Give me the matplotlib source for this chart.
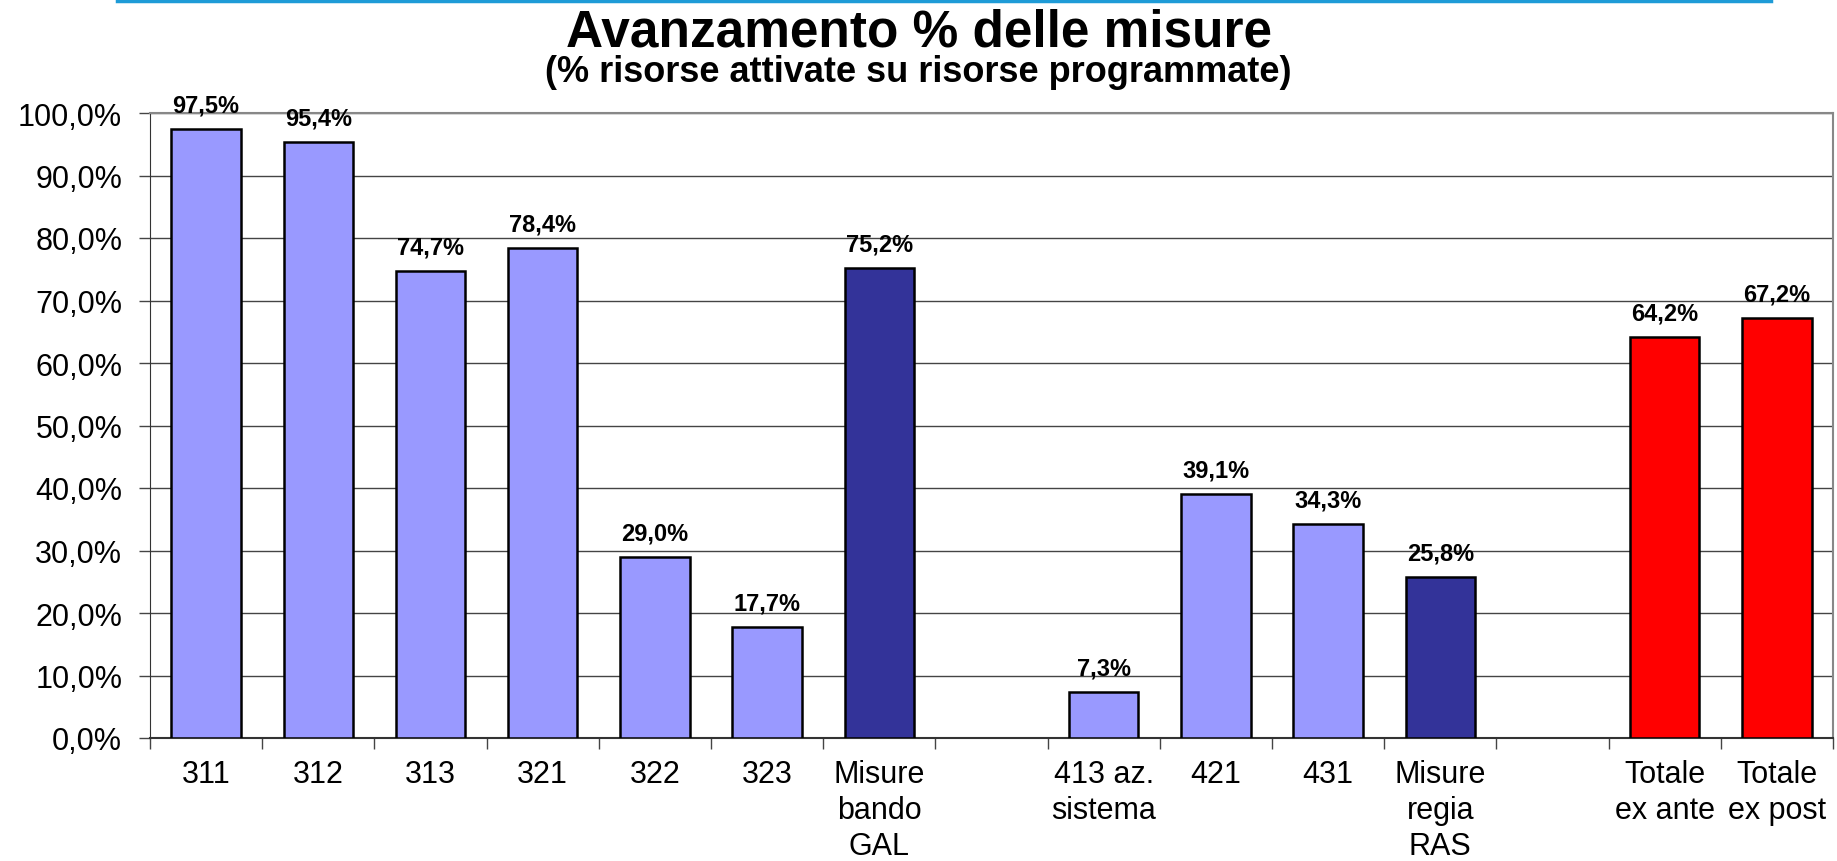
import numpy as np
import matplotlib
matplotlib.use("Agg")
import matplotlib.pyplot as plt
from matplotlib.lines import Line2D

# ==============================================================================
# DATA
# ==============================================================================
categories = ["311", "312", "313", "321", "322", "323", "Misure\nbando\nGAL", "",
              "413 az.\nsistema", "421", "431", "Misure\nregia\nRAS", "",
              "Totale\nex ante", "Totale\nex post"]
values = [97.5, 95.4, 74.7, 78.4, 29.0, 17.7, 75.2, np.nan,
          7.3, 39.1, 34.3, 25.8, np.nan, 64.2, 67.2]
groups = ["misura", "misura", "misura", "misura", "misura", "misura", "totale_gruppo", "",
          "misura", "misura", "misura", "totale_gruppo", "",
          "totale", "totale"]
yticks = np.arange(0, 101, 10)

colors = {"misura": "#9999FF", "totale_gruppo": "#333399", "totale": "#FF0000", "": "none"}

plt.rcParams["font.family"] = ["Liberation Sans", "DejaVu Sans"]

fig = plt.figure(figsize=(18.37, 8.62), dpi=100)
ax = fig.add_axes([150 / 1837, 123 / 862, 1683 / 1837, 625 / 862])

x = np.arange(len(categories))
vals = np.nan_to_num(values, nan=0.0)
bar_colors = [colors[g] for g in groups]
bars = ax.bar(x, vals, width=0.62, color=bar_colors, edgecolor="black",
              linewidth=1.8, zorder=3)
for b, v in zip(bars, values):
    if np.isnan(v):
        b.set_visible(False)
        continue
    ax.annotate(f"{v:.1f}%".replace(".", ","), (b.get_x() + b.get_width() / 2, v),
                xytext=(0, 9), textcoords="offset points", ha="center", va="bottom",
                fontsize=17, fontweight="bold", zorder=4, annotation_clip=False)

ax.set_xlim(-0.5, len(categories) - 0.5)
ax.set_ylim(0, 100)
ax.set_yticks(yticks)
ax.set_yticklabels([f"{t:.1f}%".replace(".", ",") for t in yticks], fontsize=22)
ax.yaxis.grid(True, color="#444444", linewidth=1.0, zorder=0)

ax.set_xticks(x)
ax.set_xticklabels(categories, fontsize=22, linespacing=1.26, va="top")
ax.tick_params(axis="x", which="major", length=0, pad=15)
ax.set_xticks(np.arange(-0.5, len(categories), 1), minor=True)
ax.tick_params(axis="x", which="minor", length=8, width=1.0, color="#444444", direction="out")
ax.tick_params(axis="y", length=8, width=1.0, color="#444444", direction="out", pad=12)

for side in ["top", "right"]:
    ax.spines[side].set_color("#888888")
    ax.spines[side].set_linewidth(1.5)
ax.spines["left"].set_color("#333333")
ax.spines["bottom"].set_color("#333333")
ax.spines["bottom"].set_linewidth(1.5)

fig.text(0.5, 1 - 33 / 862, "Avanzamento % delle misure", ha="center", va="center",
         fontsize=37, fontweight="bold")
fig.text(0.5, 1 - 73 / 862, "(% risorse attivate su risorse programmate)", ha="center",
         va="center", fontsize=26, fontweight="bold")

fig.add_artist(Line2D([117 / 1837, 1771 / 1837], [1 - 1.5 / 862, 1 - 1.5 / 862],
                      color="#1E9BD7", linewidth=2.5))

fig.savefig("out.png", dpi=100)
